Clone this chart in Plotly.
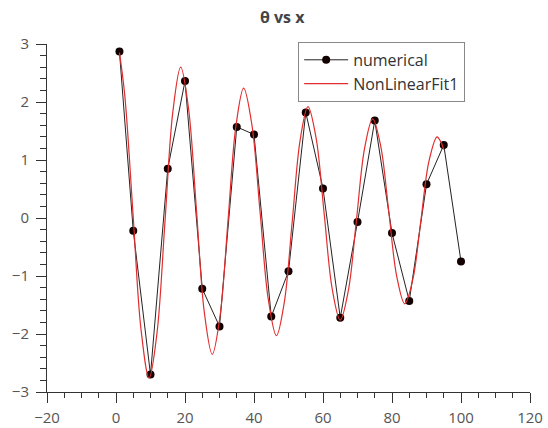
import plotly.graph_objects as go

# numerical data
x_num = [1, 5, 10, 15, 20, 25, 30, 35, 40, 45, 50, 55, 60, 65, 70, 75, 80, 85, 90, 95, 100]
y_num = [2.87, -0.22, -2.70, 0.85, 2.36, -1.22, -1.87, 1.57, 1.44, -1.70, -0.92,
         1.82, 0.51, -1.72, -0.07, 1.68, -0.26, -1.43, 0.58, 1.26, -0.75]

# NonLinearFit1 curve
x_fit = [1.0, 2.55, 4.9, 7.25, 9.6, 11.89, 14.18, 16.46, 18.75, 21.04, 23.33, 25.61,
         27.9, 30.18, 32.45, 34.73, 37.0, 39.38, 41.75, 44.13, 46.5, 48.79, 51.08, 53.36,
         55.65, 57.99, 60.33, 62.66, 65.0, 67.35, 69.7, 72.05, 74.4, 76.73, 79.05, 81.38,
         83.7, 86.04, 88.38, 90.71, 93.05, 94.0, 95.0]
y_fit = [2.85, 2.11, 0.10, -1.92, -2.76, -1.98, -0.08, 1.82, 2.60, 1.88, 0.13, -1.63,
         -2.35, -1.68, -0.06, 1.57, 2.24, 1.61, 0.11, -1.40, -2.03, -1.45, -0.06, 1.34,
         1.92, 1.38, 0.08, -1.22, -1.76, -1.25, -0.03, 1.20, 1.71, 1.24, 0.12, -1.01,
         -1.48, -1.06, -0.04, 0.98, 1.40, 1.33, 1.18]

fig = go.Figure()
fig.add_trace(go.Scatter(
    x=x_num, y=y_num, mode="lines+markers", name="numerical",
    line=dict(color="#222222", width=1),
    marker=dict(color="#120000", size=8),
))
fig.add_trace(go.Scatter(
    x=x_fit, y=y_fit, mode="lines", name="NonLinearFit1",
    line=dict(color="rgb(225,45,45)", width=1.2, shape="spline", smoothing=1.0),
))

axis_font = dict(family="Open Sans, DejaVu Sans, sans-serif", size=15, color="#555555")

fig.update_layout(
    width=548, height=428,
    margin=dict(l=47, r=18, t=44, b=36),
    paper_bgcolor="white", plot_bgcolor="white",
    title=dict(text="<b>θ vs x</b>", x=0.515, xref="container", y=0.96, yanchor="middle",
               xanchor="center",
               font=dict(family="Open Sans, DejaVu Sans, sans-serif", size=16, color="#444444")),
    showlegend=True,
    legend=dict(x=0.52, y=1.006, xanchor="left", yanchor="top",
                bordercolor="#888888", borderwidth=1, bgcolor="white",
                font=dict(family="Open Sans, DejaVu Sans, sans-serif", size=16, color="#333333"),
                itemwidth=44, tracegroupgap=0),
    xaxis=dict(range=[-20, 120], dtick=20, tick0=0, showgrid=False, zeroline=False,
               automargin=False, ticklabelstandoff=2,
               showline=True, linecolor="#333333", linewidth=1,
               ticks="outside", ticklen=10, tickcolor="#333333",
               minor=dict(dtick=5, ticks="outside", ticklen=5, tickcolor="#333333", showgrid=False),
               tickfont=axis_font),
    yaxis=dict(range=[-3, 3], dtick=1, showgrid=False, zeroline=False,
               automargin=False, ticklabelstandoff=4,
               showline=True, linecolor="#333333", linewidth=1,
               ticks="outside", ticklen=10, tickcolor="#333333",
               minor=dict(dtick=0.2, ticks="outside", ticklen=6, tickcolor="#333333", showgrid=False),
               tickfont=axis_font),
)

fig.write_html("out.html")
